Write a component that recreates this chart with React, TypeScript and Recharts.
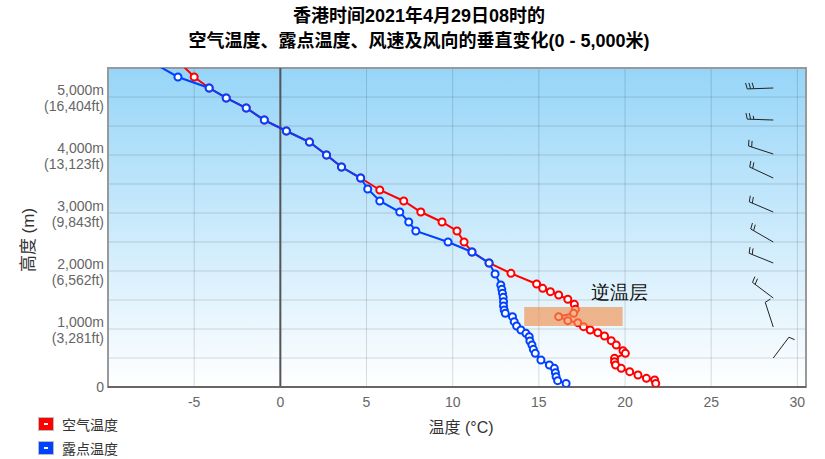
import React from 'react';
import {
  ScatterChart,
  Scatter,
  XAxis,
  YAxis,
  CartesianGrid,
  ReferenceArea,
  ReferenceLine,
  ReferenceDot,
} from 'recharts';

// air temperature profile (°C) and height (m), top to bottom
const airTemp = [
  -5.86, -5.0, -4.13, -3.14, -1.98, -0.93, 0.35, 1.69, 2.68, 3.55, 4.66, 5.77, 7.16, 8.15,
  9.38, 10.25, 10.66, 11.12, 12.11, 13.38, 14.87, 15.22, 15.67, 16.15, 16.68, 17.06, 17.12,
  17.02, 16.15, 16.68, 17.26, 17.59, 17.98, 18.42, 18.81, 19.2, 19.49, 19.88, 20.02, 19.39,
  19.39, 19.45, 19.78, 20.27, 20.75, 21.24, 21.72, 21.78,
];
const airHeight = [
  5600, 5345, 5155, 4983, 4810, 4603, 4414, 4224, 4000, 3793, 3603, 3397, 3207, 3017, 2845,
  2690, 2500, 2328, 2138, 1960, 1776, 1701, 1644, 1586, 1512, 1425, 1339, 1270, 1213, 1144,
  1109, 1040, 983, 937, 879, 799, 724, 626, 580, 494, 437, 379, 322, 264, 207, 149, 121, 60,
];

// dew point profile
const dewTemp = [
  -7.45, -5.94, -4.13, -3.14, -1.98, -0.93, 0.35, 1.69, 2.68, 3.55, 4.66, 5.07, 5.77, 6.93,
  7.45, 7.86, 9.73, 11.12, 12.11, 12.46, 12.79, 12.85, 12.89, 12.93, 12.95, 12.95, 12.99,
  13.05, 13.47, 13.57, 13.71, 13.96, 14.25, 14.44, 14.48, 14.6, 14.68, 14.79, 15.12, 15.61,
  15.9, 15.96, 16.0, 16.09, 16.58,
];
const dewHeight = [
  5600, 5345, 5155, 4983, 4810, 4603, 4414, 4224, 4000, 3793, 3603, 3414, 3207, 3017, 2845,
  2690, 2500, 2328, 2138, 1948, 1759, 1684, 1615, 1546, 1471, 1397, 1328, 1270, 1213, 1126,
  1052, 983, 925, 868, 793, 724, 649, 580, 465, 379, 322, 247, 178, 109, 60,
];

// wind: height (m), direction (deg, from), speed (knots)
const windHeight = [5155, 4603, 4017, 3603, 3017, 2500, 2138, 1534, 1034, 500];
const windDir = [268, 272, 288, 295, 293, 300, 292, 307, 342, 37];
const windSpeed = [30, 25, 20, 20, 20, 20, 20, 20, 10, 10];
const windColumn = 28.6;

const tempTicks = [-5, 0, 5, 10, 15, 20, 25, 30];
const heightTicks = [0, 1000, 2000, 3000, 4000, 5000];
const feetLabels = ['', '(3,281ft)', '(6,562ft)', '(9,843ft)', '(13,123ft)', '(16,404ft)'];
const gridHeights = [500, 1000, 1500, 2000, 2500, 3000, 3500, 4000, 4500, 5000];

// inversion layer box
const inversionTemp = [14.15, 19.86];
const inversionHeight = [1052, 1379];

const airData = airTemp.map((t, i) => ({ t, h: airHeight[i] }));
const dewData = dewTemp.map((t, i) => ({ t, h: dewHeight[i] }));
const windData = windHeight.map((h, i) => ({ t: windColumn, h, dir: windDir[i], spd: windSpeed[i] }));

const FONT = '"Liberation Sans", Arial, "Noto Sans CJK SC", sans-serif';

const marker = (color: string) => (props: any) => (
  <circle cx={props.cx} cy={props.cy} r={3.5} fill="#fff" stroke={color} strokeWidth={2} />
);

const WindBarb = (props: any) => {
  const { cx, cy, payload } = props;
  const rad = (payload.dir * Math.PI) / 180;
  const ux = Math.sin(rad);
  const uy = -Math.cos(rad);
  const px = Math.cos(rad);
  const py = Math.sin(rad);
  const L = 26;
  let d = `M${cx},${cy}L${cx + ux * L},${cy + uy * L}`;
  let spd = payload.spd;
  let pos = L;
  while (spd >= 10) {
    const bx = cx + ux * pos;
    const by = cy + uy * pos;
    d += `M${bx},${by}l${px * 6 + ux * 1.5},${py * 6 + uy * 1.5}`;
    pos -= 3.3;
    spd -= 10;
  }
  if (spd >= 5) {
    const bx = cx + ux * pos;
    const by = cy + uy * pos;
    d += `M${bx},${by}l${px * 3.5 + ux * 0.8},${py * 3.5 + uy * 0.8}`;
  }
  return <path d={d} stroke="#222" strokeWidth={1} fill="none" />;
};

const HeightTick = (props: any) => {
  const { x, y, payload } = props;
  const v = payload.value;
  const style = { fontSize: 14, fill: '#666', fontFamily: FONT };
  if (v === 0) {
    return (
      <text x={x} y={y} dy="0.35em" textAnchor="end" style={style}>
        0
      </text>
    );
  }
  const idx = heightTicks.indexOf(v);
  return (
    <g>
      <text x={x} y={y - 7} dy="0.35em" textAnchor="end" style={style}>
        {v.toLocaleString('en-US')}m
      </text>
      <text x={x} y={y + 9} dy="0.35em" textAnchor="end" style={style}>
        {feetLabels[idx]}
      </text>
    </g>
  );
};

const LegendBox = ({ color, label }: { color: string; label: string }) => (
  <div style={{ display: 'flex', alignItems: 'center', height: 24 }}>
    <span
      style={{
        width: 14,
        height: 12,
        background: color,
        border: '1px solid #bbb',
        boxSizing: 'content-box',
        position: 'relative',
        marginRight: 8,
      }}
    >
      <span
        style={{
          position: 'absolute',
          left: 5,
          top: 5,
          width: 4,
          height: 2,
          background: '#fff',
        }}
      />
    </span>
    <span style={{ fontSize: 14, color: '#333' }}>{label}</span>
  </div>
);

export default function App() {
  return (
    <div style={{ position: 'absolute', left: 0, top: 0, width: 825, height: 459, fontFamily: FONT }}>
      <div
        style={{
          position: 'absolute',
          left: 0,
          top: 4,
          width: 838,
          textAlign: 'center',
          fontSize: 18,
          fontWeight: 'bold',
          lineHeight: '25px',
          color: '#000',
        }}
      >
        <div>香港时间2021年4月29日08时的</div>
        <div>空气温度、露点温度、风速及风向的垂直变化(0 - 5,000米)</div>
      </div>
      <ScatterChart width={825} height={459} margin={{ top: 68, right: 19, left: 0, bottom: 42 }}>
        <defs>
          <linearGradient id="plotBg" x1="0" y1="0" x2="0" y2="1">
            <stop offset="0%" stopColor="#96d5f8" />
            <stop offset="100%" stopColor="#ffffff" />
          </linearGradient>
        </defs>
        <CartesianGrid
          fill="url(#plotBg)"
          fillOpacity={1}
          stroke="#000"
          strokeOpacity={0.14}
          horizontalValues={gridHeights}
          verticalValues={tempTicks}
        />
        <XAxis
          type="number"
          dataKey="t"
          domain={[-10, 30.5]}
          ticks={tempTicks}
          allowDataOverflow
          height={30}
          tickLine={false}
          tickMargin={4}
          axisLine={{ stroke: '#666', strokeWidth: 2 }}
          tick={{ fontSize: 14, fill: '#666', fontFamily: FONT }}
          label={{
            content: () => (
              <text x={461} y={427} dy="0.35em" textAnchor="middle" style={{ fontSize: 16, fill: '#333', fontFamily: FONT }}>
                温度 (°C)
              </text>
            ),
          }}
        />
        <YAxis
          type="number"
          dataKey="h"
          domain={[0, 5500]}
          ticks={heightTicks}
          allowDataOverflow
          width={108}
          tickLine={false}
          tickSize={0}
          tickMargin={4}
          axisLine={false}
          tick={<HeightTick />}
          label={{
            content: () => (
              <text
                x={28}
                y={240}
                dy="0.35em"
                textAnchor="middle"
                transform="rotate(-90 28 240)"
                style={{ fontSize: 17, fill: '#333', fontFamily: FONT }}
              >
                高度 (m)
              </text>
            ),
          }}
        />
        <ReferenceLine x={0} stroke="#555" strokeWidth={2} />
        <ReferenceArea x1={-10} x2={30.5} y1={0} y2={5500} fill="none" stroke="#999" strokeWidth={2} />
        <Scatter
          data={airData}
          line={{ stroke: '#ff0000', strokeWidth: 2 }}
          lineType="joint"
          shape={marker('#ff0000')}
          isAnimationActive={false}
        />
        <Scatter
          data={dewData}
          line={{ stroke: '#0040ff', strokeWidth: 2 }}
          lineType="joint"
          shape={marker('#0040ff')}
          isAnimationActive={false}
        />
        <Scatter data={windData} shape={<WindBarb />} isAnimationActive={false} />
        <ReferenceArea
          x1={inversionTemp[0]}
          x2={inversionTemp[1]}
          y1={inversionHeight[0]}
          y2={inversionHeight[1]}
          fill="#f09050"
          fillOpacity={0.65}
          stroke="none"
          zIndex={700}
        />
        <ReferenceDot
          x={19.69}
          y={1638}
          r={0}
          fill="none"
          stroke="none"
          label={{
            value: '逆温层',
            position: 'center',
            style: { fontSize: 19, fill: '#111', fontFamily: 'serif' },
          }}
        />
      </ScatterChart>
      <div style={{ position: 'absolute', left: 38, top: 412 }}>
        <LegendBox color="#ff0000" label="空气温度" />
        <LegendBox color="#0040ff" label="露点温度" />
      </div>
    </div>
  );
}
